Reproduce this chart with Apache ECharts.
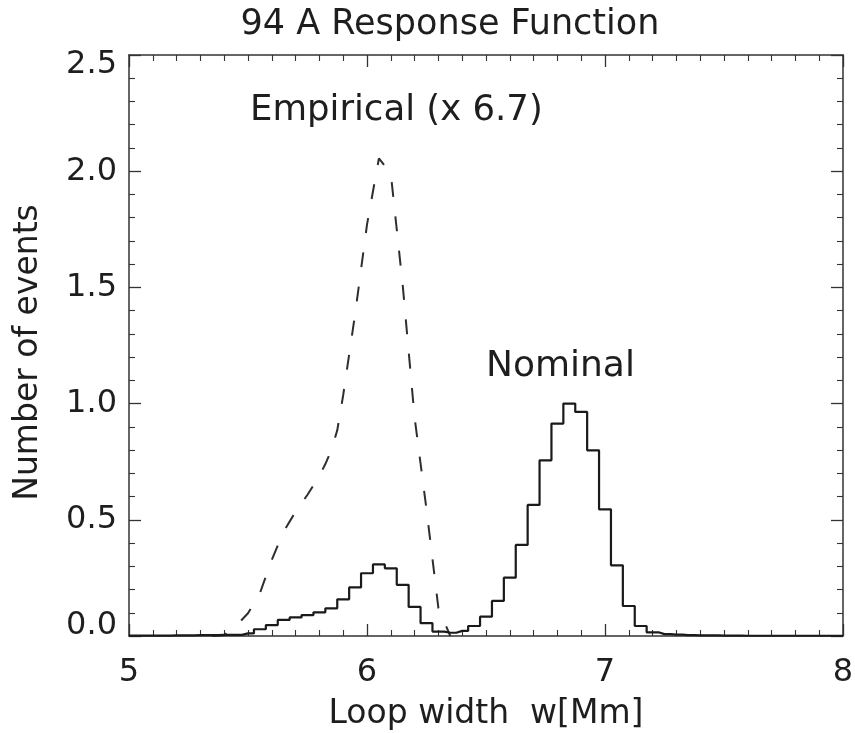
<!DOCTYPE html>
<html>
<head>
<meta charset="utf-8">
<title>94 A Response Function</title>
<script src="https://cdn.jsdelivr.net/npm/echarts@6.0.0/dist/echarts.min.js"></script>
<style>
  html, body { margin: 0; padding: 0; background: #ffffff; }
  #chart { width: 855px; height: 733px; }
</style>
</head>
<body>
<div id="chart"></div>
<script>
// Loop-width histogram (nominal response), bin centres in Mm
const binCenters = [
  5.00, 5.05, 5.10, 5.15, 5.20, 5.25, 5.30, 5.35, 5.40, 5.45,
  5.50, 5.55, 5.60, 5.65, 5.70, 5.75, 5.80, 5.85, 5.90, 5.95,
  6.00, 6.05, 6.10, 6.15, 6.20, 6.25, 6.30, 6.35, 6.40, 6.45,
  6.50, 6.55, 6.60, 6.65, 6.70, 6.75, 6.80, 6.85, 6.90, 6.95,
  7.00, 7.05, 7.10, 7.15, 7.20, 7.25, 7.30, 7.35, 7.40, 7.45,
  7.50, 7.55, 7.60, 7.65, 7.70, 7.75, 7.80, 7.85, 7.90, 7.95,
  8.00
];
const nominalCounts = [
  0.002, 0.002, 0.002, 0.002, 0.003, 0.003, 0.004, 0.004, 0.005, 0.005,
  0.011, 0.029, 0.047, 0.069, 0.080, 0.090, 0.102, 0.119, 0.158, 0.209,
  0.270, 0.308, 0.291, 0.220, 0.125, 0.055, 0.019, 0.014, 0.022, 0.043,
  0.083, 0.151, 0.251, 0.392, 0.564, 0.756, 0.914, 1.000, 0.964, 0.799,
  0.545, 0.304, 0.129, 0.043, 0.016, 0.008, 0.006, 0.004, 0.003, 0.003,
  0.002, 0.002, 0.001, 0.001, 0.001, 0.001, 0.001, 0.001, 0.001, 0.001,
  0.001
];

// Empirical response, already multiplied by 6.7
const empiricalWidths = [
  5.35, 5.40, 5.45, 5.50, 5.55, 5.60, 5.65, 5.70, 5.75, 5.80,
  5.825, 5.85, 5.875, 5.90, 5.95, 6.00, 6.05, 6.10, 6.15, 6.20,
  6.25, 6.30, 6.35
];
const empiricalCounts = [
  0.000, 0.003, 0.044, 0.098, 0.184, 0.328, 0.450, 0.535, 0.608, 0.689,
  0.740, 0.800, 0.885, 1.037, 1.385, 1.770, 2.055, 1.990, 1.510, 0.940,
  0.545, 0.120, 0.000
];

// Axis ticks
const xTicks = [5, 6, 7, 8];
const yTickLabels = ['0.0', '0.5', '1.0', '1.5', '2.0', '2.5'];

const FONT = 'DejaVu Sans';
const INK = '#1e1e1e';
const AXIS = '#333333';

const chart = echarts.init(document.getElementById('chart'), null, { renderer: 'canvas' });

function frameAxis(extra) {
  return Object.assign({
    type: 'value',
    axisLine: { show: true, onZero: false, lineStyle: { color: AXIS, width: 1.5 } },
    axisTick: { show: true, inside: true, length: 12, lineStyle: { color: AXIS, width: 1.3 } },
    minorTick: { show: true, length: 6, lineStyle: { color: AXIS, width: 1.1 } },
    splitLine: { show: false },
    minorSplitLine: { show: false }
  }, extra);
}

const option = {
  animation: false,
  backgroundColor: '#ffffff',
  grid: { left: 129, right: 12, top: 55, bottom: 97, containLabel: false, outerBoundsMode: 'none' },
  xAxis: [
    frameAxis({
      position: 'bottom',
      min: xTicks[0], max: xTicks[xTicks.length - 1], interval: 1,
      minorTick: { show: true, splitNumber: 10, length: 6, lineStyle: { color: AXIS, width: 1.1 } },
      axisLabel: {
        show: true, margin: 21, color: INK, fontFamily: FONT, fontSize: 32,
        formatter: v => String(v)
      },
      name: 'Loop width  w[Mm]',
      nameLocation: 'middle',
      nameGap: 62,
      nameTextStyle: { color: INK, fontFamily: FONT, fontSize: 33 }
    }),
    frameAxis({
      position: 'top',
      min: xTicks[0], max: xTicks[xTicks.length - 1], interval: 1,
      minorTick: { show: true, splitNumber: 10, length: 6, lineStyle: { color: AXIS, width: 1.1 } },
      axisLabel: { show: false }
    })
  ],
  yAxis: [
    frameAxis({
      position: 'left',
      min: 0, max: 2.5, interval: 0.5,
      minorTick: { show: true, splitNumber: 5, length: 6, lineStyle: { color: AXIS, width: 1.1 } },
      axisLabel: {
        show: true, margin: 12, color: INK, fontFamily: FONT, fontSize: 32,
        lineHeight: 20,
        verticalAlignMinLabel: 'bottom',
        verticalAlignMaxLabel: 'top',
        formatter: v => yTickLabels[Math.round(v / 0.5)]
      },
      name: 'Number of events',
      nameLocation: 'middle',
      nameGap: 84,
      nameTextStyle: { color: INK, fontFamily: FONT, fontSize: 33, padding: [0, 14, 0, 0] }
    }),
    frameAxis({
      position: 'right',
      min: 0, max: 2.5, interval: 0.5,
      minorTick: { show: true, splitNumber: 5, length: 6, lineStyle: { color: AXIS, width: 1.1 } },
      axisLabel: { show: false }
    })
  ],
  graphic: [
    {
      type: 'text', x: 450, y: 24.5,
      style: { text: '94 A Response Function', fill: INK, font: '35px "DejaVu Sans"', align: 'center', verticalAlign: 'middle' }
    },
    {
      type: 'text', x: 250, y: 111,
      style: { text: 'Empirical (x 6.7)', fill: INK, font: '35.5px "DejaVu Sans"', align: 'left', verticalAlign: 'middle' }
    },
    {
      type: 'text', x: 486, y: 366.5,
      style: { text: 'Nominal', fill: INK, font: '36px "DejaVu Sans"', align: 'left', verticalAlign: 'middle' }
    }
  ],
  series: [
    {
      name: 'Empirical',
      type: 'line',
      xAxisIndex: 0, yAxisIndex: 0,
      data: empiricalWidths.map((w, i) => [w, empiricalCounts[i]]),
      showSymbol: false,
      smooth: false,
      lineStyle: { color: '#2e2e2e', width: 2, type: [15, 19.5] },
      z: 3
    },
    {
      name: 'Nominal',
      type: 'line',
      xAxisIndex: 0, yAxisIndex: 0,
      step: 'middle',
      data: binCenters.map((w, i) => [w, nominalCounts[i]]),
      showSymbol: false,
      lineStyle: { color: '#1a1a1a', width: 2.2 },
      z: 4
    }
  ]
};

chart.setOption(option);
</script>
</body>
</html>
